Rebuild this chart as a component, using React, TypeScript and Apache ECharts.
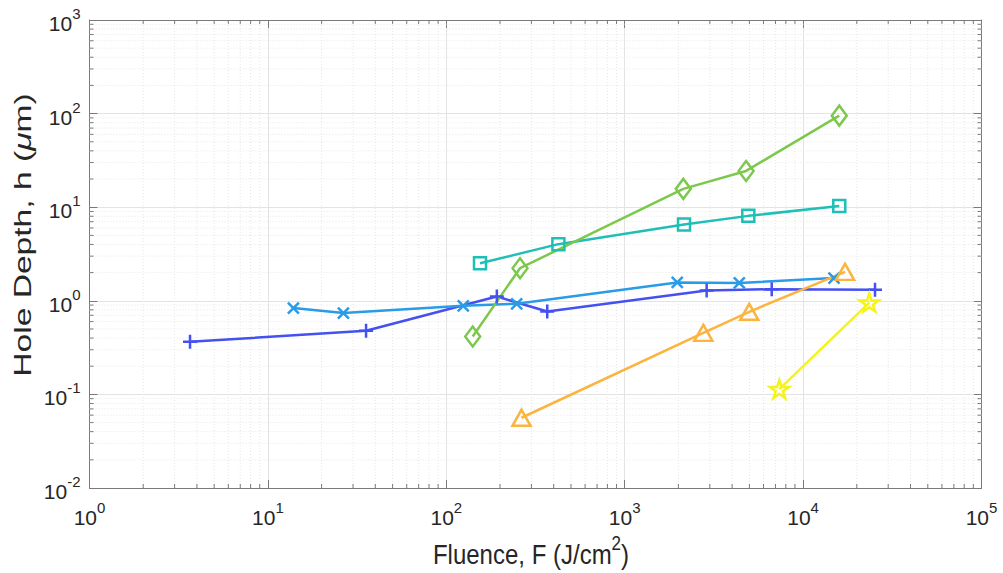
import React, { useEffect, useRef } from "react";
import * as echarts from "echarts";

// ---- Data ----
const plusX = [3.66, 35.5, 192, 368, 2880, 6670, 25300];
const plusY = [0.365, 0.478, 1.11, 0.769, 1.29, 1.33, 1.31];

const crossX = [13.9, 26.5, 124.5, 248, 1970, 4390, 14900];
const crossY = [0.836, 0.739, 0.884, 0.929, 1.57, 1.55, 1.75];

const squareX = [154.5, 425, 2150, 4930, 15950];
const squareY = [2.52, 4.03, 6.52, 8.08, 10.3];

const diamondX = [140.6, 259, 2130, 4790, 15950];
const diamondY = [0.416, 2.23, 15.7, 24.4, 95.1];

const triangleX = [264, 2760, 4990, 17180];
const triangleY = [0.0563, 0.455, 0.763, 2.04];

const starX = [7360, 23500];
const starY = [0.114, 0.958];

const X_MIN = 1;
const X_MAX = 1e5;
const Y_MIN = 1e-2;
const Y_MAX = 1e3;

const X_TITLE = "Fluence, F (J/cm";
const Y_TITLE_A = "Hole Depth, h (";
const Y_TITLE_MU = "μ";
const Y_TITLE_B = "m)";

// minor tick positions (2..9 x 10^k) for the log axes
const minorsBetween = (lo: number, hi: number) => {
  const out: number[] = [];
  for (let e = lo; e < hi; e++) {
    for (let m = 2; m <= 9; m++) out.push(m * Math.pow(10, e));
  }
  return out;
};
const xMinor = minorsBetween(0, 5);
const yMinor = minorsBetween(-2, 3);

const FONT = "'Liberation Sans', Arial, Helvetica, sans-serif";
const TEXT = "#262626";
const AXIS = "#7a7a7a";
const GRID_MAJOR = "#e3e3e3";
const GRID_MINOR = "#e6e6e6";

const PLUS = "path://M0,5L10,5M5,0L5,10";
const CROSS = "path://M0,0L10,10M10,0L0,10";
const STAR =
  "path://M100,0L122.45,69.1L195.1,69.1L136.3,111.8L158.8,180.9L100,138.2L41.2,180.9L63.7,111.8L4.9,69.1L77.55,69.1Z";

const zip = (xs: number[], ys: number[]) => xs.map((x, i) => [x, ys[i]]);

const expLabel = (v: number) => {
  const e = Math.round(Math.log10(v));
  return "{b|10}{s|" + e + "}";
};
const labelRich = {
  b: { fontSize: 21, fontFamily: FONT, color: TEXT, lineHeight: 28, verticalAlign: "bottom" },
  s: { fontSize: 15, fontFamily: FONT, color: TEXT, lineHeight: 15, verticalAlign: "top" },
};

function lineSeries(
  xs: number[],
  ys: number[],
  color: string,
  symbol: string,
  size: number | number[],
  keep = false
) {
  return {
    type: "line",
    data: zip(xs, ys),
    symbol,
    symbolSize: size,
    symbolKeepAspect: keep,
    showAllSymbol: true,
    lineStyle: { color, width: 2.5 },
    itemStyle: { color: "transparent", borderColor: color, borderWidth: 2.5 },
    emphasis: { disabled: true },
    silent: true,
    z: 5,
  };
}

export default function App() {
  const ref = useRef<HTMLDivElement>(null);

  useEffect(() => {
    if (!ref.current) return;
    const chart = echarts.init(ref.current, null, { renderer: "svg" });

    const minorX = {
      type: "custom",
      silent: true,
      z: 1,
      data: xMinor.map((v) => [v, 1]),
      renderItem: (_p: any, api: any) => {
        const v = api.value(0);
        const b = api.coord([v, Y_MIN]);
        const t = api.coord([v, Y_MAX]);
        return {
          type: "group",
          children: [
            {
              type: "line",
              shape: { x1: b[0], y1: b[1], x2: t[0], y2: t[1] },
              style: { stroke: GRID_MINOR, lineWidth: 1, lineDash: [1, 2] },
            },
            {
              type: "line",
              shape: { x1: b[0], y1: b[1], x2: b[0], y2: b[1] - 4 },
              style: { stroke: AXIS, lineWidth: 1 },
            },
            {
              type: "line",
              shape: { x1: t[0], y1: t[1], x2: t[0], y2: t[1] + 4 },
              style: { stroke: AXIS, lineWidth: 1 },
            },
          ],
        };
      },
    };

    const minorY = {
      type: "custom",
      silent: true,
      z: 1,
      data: yMinor.map((v) => [1, v]),
      renderItem: (_p: any, api: any) => {
        const v = api.value(1);
        const l = api.coord([X_MIN, v]);
        const r = api.coord([X_MAX, v]);
        return {
          type: "group",
          children: [
            {
              type: "line",
              shape: { x1: l[0], y1: l[1], x2: r[0], y2: r[1] },
              style: { stroke: GRID_MINOR, lineWidth: 1, lineDash: [1, 2] },
            },
            {
              type: "line",
              shape: { x1: l[0], y1: l[1], x2: l[0] + 4, y2: l[1] },
              style: { stroke: AXIS, lineWidth: 1 },
            },
            {
              type: "line",
              shape: { x1: r[0], y1: r[1], x2: r[0] - 4, y2: r[1] },
              style: { stroke: AXIS, lineWidth: 1 },
            },
          ],
        };
      },
    };

    const baseX = { type: "log", logBase: 10, min: X_MIN, max: X_MAX, splitNumber: 5 };
    const baseY = { type: "log", logBase: 10, min: Y_MIN, max: Y_MAX, splitNumber: 5 };

    chart.setOption({
      animation: false,
      backgroundColor: "#ffffff",
      grid: { left: 89.5, right: 21.5, top: 20, bottom: 85, containLabel: false },
      xAxis: [
        {
          ...baseX,
          position: "bottom",
          axisLine: { show: true, lineStyle: { color: AXIS, width: 1 } },
          axisTick: { show: true, inside: true, length: 8, lineStyle: { color: AXIS } },
          axisLabel: { formatter: expLabel, rich: labelRich, margin: 12 },
          splitLine: { show: true, lineStyle: { color: GRID_MAJOR, width: 1 } },
        },
        {
          ...baseX,
          position: "top",
          axisLine: { show: true, lineStyle: { color: AXIS, width: 1 } },
          axisTick: { show: true, inside: true, length: 8, lineStyle: { color: AXIS } },
          axisLabel: { show: false },
          splitLine: { show: false },
        },
      ],
      yAxis: [
        {
          ...baseY,
          position: "left",
          axisLine: { show: true, lineStyle: { color: AXIS, width: 1 } },
          axisTick: { show: true, inside: true, length: 8, lineStyle: { color: AXIS } },
          axisLabel: { formatter: expLabel, rich: labelRich, margin: 9 },
          splitLine: { show: true, lineStyle: { color: GRID_MAJOR, width: 1 } },
        },
        {
          ...baseY,
          position: "right",
          axisLine: { show: true, lineStyle: { color: AXIS, width: 1 } },
          axisTick: { show: true, inside: true, length: 8, lineStyle: { color: AXIS } },
          axisLabel: { show: false },
          splitLine: { show: false },
        },
      ],
      graphic: [
        {
          type: "text",
          x: 531,
          y: 551,
          scaleY: 1.15,
          style: {
            text: "{t|" + X_TITLE + "}{s|2}{t|)}",
            align: "center",
            verticalAlign: "middle",
            rich: {
              t: { fontSize: 24, fontFamily: FONT, fill: TEXT, lineHeight: 30, verticalAlign: "bottom" },
              s: { fontSize: 17, fontFamily: FONT, fill: TEXT, lineHeight: 17, verticalAlign: "top" },
            },
          },
        },
        {
          type: "text",
          x: 23,
          y: 235,
          rotation: Math.PI / 2,
          scaleX: 1.4,
          style: {
            text: "{t|" + Y_TITLE_A + "}{i|" + Y_TITLE_MU + "}{t|" + Y_TITLE_B + "}",
            align: "center",
            verticalAlign: "middle",
            rich: {
              t: { fontSize: 24, fontFamily: FONT, fill: TEXT },
              i: { fontSize: 24, fontFamily: FONT, fill: TEXT, fontStyle: "italic" },
            },
          },
        },
      ],
      series: [
        minorX,
        minorY,
        lineSeries(plusX, plusY, "#4450f0", PLUS, 14),
        lineSeries(crossX, crossY, "#2a9be6", CROSS, 11),
        lineSeries(squareX, squareY, "#1ebfb6", "rect", 12),
        lineSeries(diamondX, diamondY, "#7cc84c", "diamond", [15, 20]),
        lineSeries(triangleX, triangleY, "#fbb43e", "triangle", [18, 16]),
        lineSeries(starX, starY, "#f4f41a", STAR, 19, true),
      ],
    });

    return () => chart.dispose();
  }, []);

  return (
    <div
      ref={ref}
      style={{ position: "fixed", left: 0, top: 0, width: 1003, height: 573, background: "#fff" }}
    />
  );
}
